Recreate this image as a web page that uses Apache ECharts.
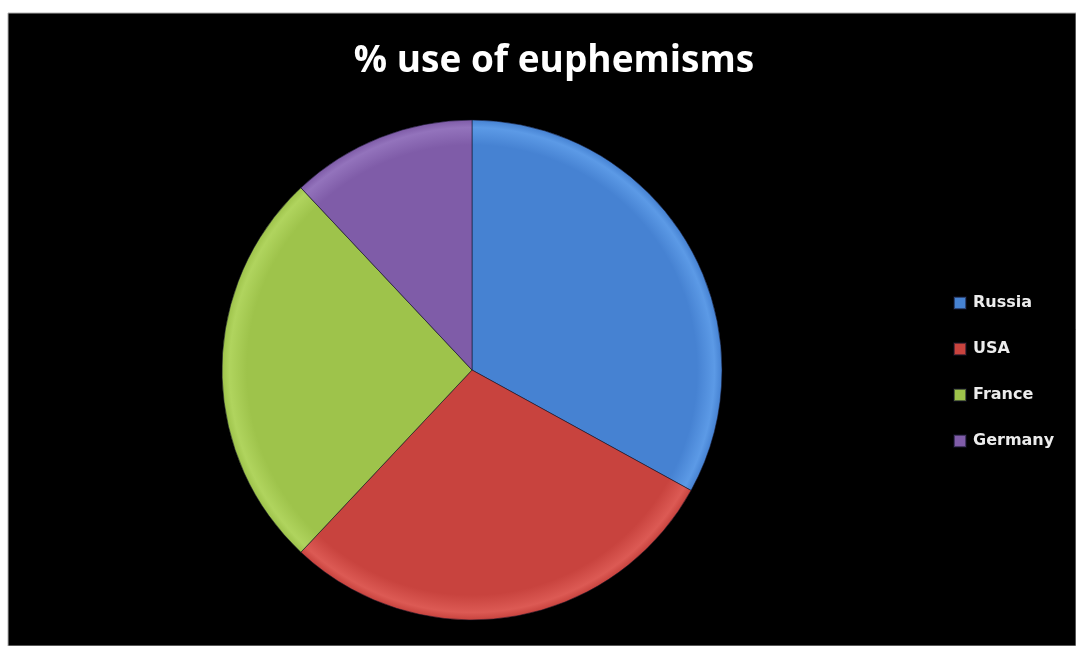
<!DOCTYPE html>
<html>
<head>
<meta charset="utf-8">
<title>% use of euphemisms</title>
<script src="https://cdn.jsdelivr.net/npm/echarts@6/dist/echarts.min.js"></script>
<style>
  html, body { margin: 0; padding: 0; background: #ffffff; }
  #chart { width: 1076px; height: 646px; }
</style>
</head>
<body>
<div id="chart"></div>
<script>
// Share of euphemism use by country (percent)
const countries = ['Russia', 'USA', 'France', 'Germany'];
const shares = [33, 29, 26, 12];
const baseColors = ['#4682d2', '#c8433e', '#9ec34b', '#7f5ca8'];
const rimColors = ['#5c9ae6', '#dc5a54', '#b0d45e', '#9373bc'];

const cx = 472, cy = 370, r = 250;

function sliceFill(i) {
  // bevelled look: flat body with a soft lighter band near the edge
  return new echarts.graphic.RadialGradient(cx, cy, r, [
    { offset: 0, color: baseColors[i] },
    { offset: 0.9, color: baseColors[i] },
    { offset: 0.97, color: rimColors[i] },
    { offset: 1, color: baseColors[i] }
  ], true);
}

const chart = echarts.init(document.getElementById('chart'), null, { renderer: 'canvas' });

chart.setOption({
  backgroundColor: '#ffffff',
  animation: false,
  graphic: [{
    type: 'rect',
    z: -10,
    shape: { x: 8, y: 13, width: 1068, height: 633 },
    style: { fill: '#000000', stroke: '#b0b0b0', lineWidth: 1 }
  }],
  title: {
    text: '% use of euphemisms',
    left: 549,
    top: 38,
    textAlign: 'center',
    textStyle: {
      color: '#ffffff',
      fontFamily: 'Open Sans',
      fontWeight: 'bold',
      fontSize: 37
    }
  },
  legend: {
    orient: 'vertical',
    left: 948,
    top: 290,
    itemGap: 30,
    itemWidth: 12,
    itemHeight: 12,
    icon: 'rect',
    data: countries,
    textStyle: {
      color: '#ececec',
      fontFamily: 'DejaVu Sans',
      fontWeight: 'bold',
      fontSize: 16,
      padding: [0, 0, 0, 2]
    }
  },
  series: [{
    type: 'pie',
    center: [cx, cy],
    radius: [0, r],
    startAngle: 90,
    clockwise: true,
    label: { show: false },
    labelLine: { show: false },
    emphasis: { disabled: true },
    itemStyle: {
      borderColor: 'rgba(20,20,40,0.55)',
      borderWidth: 1
    },
    data: countries.map((name, i) => ({
      name: name,
      value: shares[i],
      itemStyle: { color: sliceFill(i) }
    }))
  }]
});
</script>
</body>
</html>
